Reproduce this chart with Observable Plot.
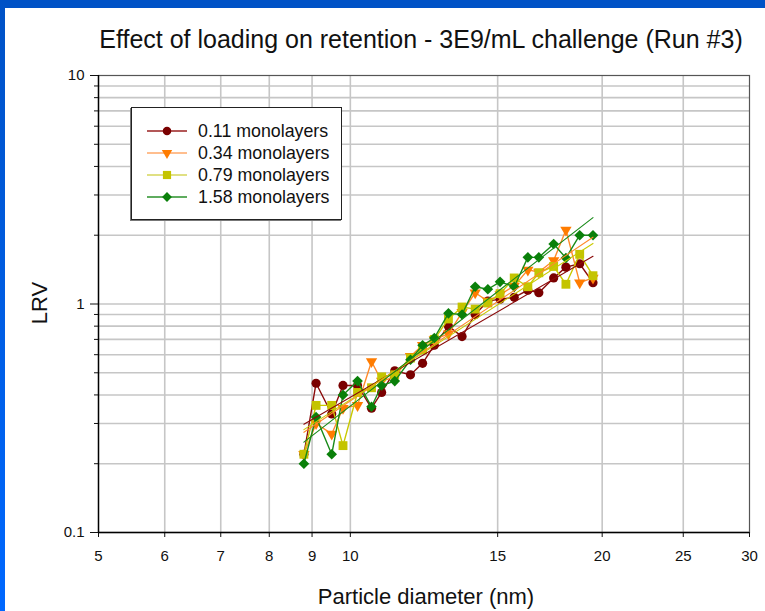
<!DOCTYPE html>
<html>
<head>
<meta charset="utf-8">
<script src="https://cdn.jsdelivr.net/npm/d3@7"></script>
<script src="https://cdn.jsdelivr.net/npm/@observablehq/plot@0.6"></script>
<style>
  body { margin: 0; background: #fff; font-family: "Liberation Sans", Arial, sans-serif; }
  #wrap { position: relative; width: 765px; height: 611px; overflow: hidden; background: #fff; }
  #topbar { position: absolute; left: 0; top: 0; width: 765px; height: 8px; background: #0052c6; }
  #leftbar { position: absolute; left: 0; top: 0; width: 5px; height: 611px; background: linear-gradient(#0052c6, #0068ff); }
  #chart { position: absolute; left: 0; top: 0; }
  #chart svg text { font-size: 15px !important; font-family: "Liberation Sans", Arial, sans-serif !important; fill: #111; }
  .label { position: absolute; color: #111; white-space: nowrap; }
  #title { left: 421px; top: 25px; transform: translateX(-50%); font-size: 25px; }
  #xlabel { left: 426px; top: 584px; transform: translateX(-50%); font-size: 22px; }
  #ylabel { left: 40px; top: 303px; transform: translate(-50%, -50%) rotate(-90deg); font-size: 22px; }
  #legend { position: absolute; left: 131px; top: 107px; width: 209px; height: 111px; border: 1px solid #222;
            box-shadow: -1px 1px 0 #777; background: #fff; }
  .row { position: absolute; left: 14px; height: 22px; display: flex; align-items: center; font-size: 17.8px; color: #111; }
  .row svg { margin-right: 10px; }
</style>
</head>
<body>
<div id="wrap">
  <div id="topbar"></div>
  <div id="leftbar"></div>
  <div id="chart"></div>
  <div id="title" class="label">Effect of loading on retention - 3E9/mL challenge (Run #3)</div>
  <div id="xlabel" class="label">Particle diameter (nm)</div>
  <div id="ylabel" class="label">LRV</div>
  <div id="legend"></div>
</div>
<script>
// Particle size channels (nm)
const diameters = [8.8, 9.1, 9.5, 9.8, 10.2, 10.6, 10.9, 11.3, 11.8, 12.2, 12.6, 13.1,
                   13.6, 14.1, 14.6, 15.1, 15.7, 16.3, 16.8, 17.5, 18.1, 18.8, 19.5];

// Log reduction value per channel, one array per loading level
const lrv011 = [0.22, 0.45, 0.33, 0.44, 0.44, 0.35, 0.41, 0.51, 0.49, 0.55, 0.66, 0.80,
                0.72, 0.90, 1.03, 1.05, 1.07, 1.15, 1.12, 1.30, 1.45, 1.50, 1.24];
const lrv034 = [0.22, 0.30, 0.27, 0.35, 0.36, 0.56, 0.46, 0.48, 0.59, 0.66, 0.70, 0.74,
                0.92, 1.12, 1.03, 1.10, 1.20, 1.41, 1.38, 1.55, 2.11, 1.24, 1.30];
const lrv079 = [0.22, 0.36, 0.36, 0.24, 0.41, 0.43, 0.48, 0.49, 0.58, 0.63, 0.70, 0.86,
                0.97, 0.95, 1.01, 1.11, 1.30, 1.19, 1.37, 1.46, 1.22, 1.65, 1.33];
const lrv158 = [0.20, 0.32, 0.22, 0.40, 0.46, 0.355, 0.44, 0.46, 0.57, 0.66, 0.71, 0.91,
                0.90, 1.19, 1.16, 1.25, 1.19, 1.60, 1.60, 1.83, 1.59, 2.00, 2.00];

const seriesNames = ["0.11 monolayers", "0.34 monolayers", "0.79 monolayers", "1.58 monolayers"];
const seriesValues = [lrv011, lrv034, lrv079, lrv158];

// Axis ticks
const xTicks = [5, 6, 7, 8, 9, 10, 15, 20, 25, 30];
const xGrid = [6, 7, 8, 9, 10, 15, 20, 25];
const yMajor = [0.1, 1, 10];
const yMinor = [0.2, 0.3, 0.4, 0.5, 0.6, 0.7, 0.8, 0.9, 2, 3, 4, 5, 6, 7, 8, 9];

// Styling per series
const styles = [
  {line: "#8b0a0a", fill: "#7a0000", legendLine: "#9a2020", symbol: "circle", r: 4.6, rotate: 0},
  {line: "#ff8a2a", fill: "#ff7c00", legendLine: "#ffa868", symbol: "triangle", r: 4.2, rotate: 180},
  {line: "#c9c900", fill: "#c4c400", legendLine: "#d6d65a", symbol: "square", r: 5.0, rotate: 0},
  {line: "#188a18", fill: "#0a800a", legendLine: "#2a902a", symbol: "diamond2", r: 4.8, rotate: 0}
];

const rows = seriesValues.map((vals, i) => diameters.map((d, j) => ({d, lrv: vals[j], series: seriesNames[i]})));

// Power-law trend line fitted in log-log space, spanning the measured range
function powerTrend(xs, ys, name) {
  const lx = xs.map(Math.log10), ly = ys.map(Math.log10);
  const mx = d3.mean(lx), my = d3.mean(ly);
  const b = d3.sum(lx, (v, k) => (v - mx) * (ly[k] - my)) / d3.sum(lx, v => (v - mx) ** 2);
  const a = my - b * mx;
  const ends = [d3.min(xs), d3.max(xs)];
  return ends.map(x => ({d: x, lrv: Math.pow(10, a + b * Math.log10(x)), series: name}));
}
const trends = seriesValues.map((vals, i) => powerTrend(diameters, vals, seriesNames[i]));

const marks = [
  Plot.ruleX(xGrid, {stroke: "#c6c6c6", strokeWidth: 1.6}),
  Plot.ruleY(yMinor.concat([1]), {stroke: "#c6c6c6", strokeWidth: 1.6}),
  Plot.frame({stroke: "#555", strokeWidth: 1.2})
];
rows.forEach((data, i) => {
  const s = styles[i];
  marks.push(Plot.line(data, {x: "d", y: "lrv", stroke: s.line, strokeWidth: 1.4}));
  marks.push(Plot.dot(data, {x: "d", y: "lrv", fill: s.fill, stroke: "none", symbol: s.symbol, r: s.r, rotate: s.rotate}));
});
trends.forEach((data, i) => {
  marks.push(Plot.line(data, {x: "d", y: "lrv", stroke: styles[i].line, strokeWidth: 1.1}));
});
marks.push(
  Plot.axisX({ticks: xTicks, tickFormat: d => String(d), tickSize: 5, tickPadding: 13, label: null}),
  Plot.axisY({ticks: yMajor, tickFormat: d => String(d), tickSize: 8, tickPadding: 6, label: null}),
  Plot.axisY({ticks: yMinor, tickFormat: () => "", tickSize: 4, label: null}),
  Plot.ruleX([5], {stroke: "#000", strokeWidth: 1.4}),
  Plot.ruleY([0.1], {stroke: "#000", strokeWidth: 1.4})
);

const chart = Plot.plot({
  width: 765,
  height: 611,
  marginLeft: 98,
  marginRight: 16,
  marginTop: 75,
  marginBottom: 79,
  style: {background: "transparent", fontFamily: "Liberation Sans, Arial, sans-serif", fontSize: "15px", color: "#111"},
  x: {type: "log", domain: [5, 30]},
  y: {type: "log", domain: [0.1, 10]},
  marks
});
document.getElementById("chart").appendChild(chart);

// Legend: line swatch with marker, then series name
const legend = document.getElementById("legend");
const symMap = {circle: d3.symbolCircle, triangle: d3.symbolTriangle, square: d3.symbolSquare, diamond2: d3.symbolDiamond2};
seriesNames.forEach((name, i) => {
  const s = styles[i];
  const row = document.createElement("div");
  row.className = "row";
  row.style.top = (12 + i * 22) + "px";
  const sw = d3.create("svg").attr("width", 42).attr("height", 14);
  sw.append("line").attr("x1", 1).attr("x2", 41).attr("y1", 7).attr("y2", 7)
    .attr("stroke", s.legendLine).attr("stroke-width", 1.6);
  sw.append("path").attr("d", d3.symbol(symMap[s.symbol], Math.PI * s.r * s.r * 0.85)())
    .attr("transform", `translate(21,7) rotate(${s.rotate})`).attr("fill", s.fill);
  row.appendChild(sw.node());
  const t = document.createElement("span");
  t.textContent = name;
  row.appendChild(t);
  legend.appendChild(row);
});
</script>
</body>
</html>
